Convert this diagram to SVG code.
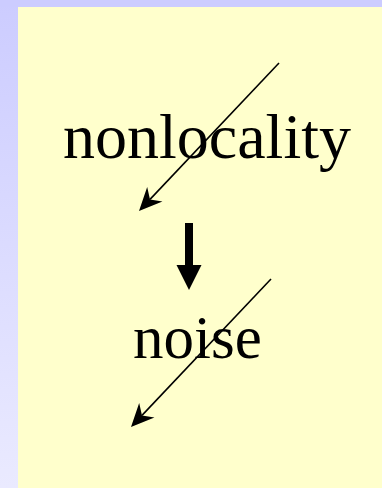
<svg xmlns="http://www.w3.org/2000/svg" width="382" height="488" viewBox="0 0 382 488">
  <style>
    .label { font-family: "Liberation Serif", "Times New Roman", serif; fill: #000000; }
    .thin { stroke: #000000; stroke-width: 1.6; fill: none; }
  </style>
  <defs>
    <linearGradient id="side" x1="0" y1="0" x2="0" y2="1">
      <stop offset="0" stop-color="#ccccff"/>
      <stop offset="1" stop-color="#eaeaff"/>
    </linearGradient>
    <marker id="head" markerUnits="userSpaceOnUse" viewBox="-8 -12 26 24" refX="0" refY="0" markerWidth="26" markerHeight="24" orient="auto">
      <path d="M16,0 L-7,-10.5 L0,0 L-7,10.5 Z" fill="#000000"/>
    </marker>
  </defs>
  <rect x="0" y="0" width="382" height="488" fill="url(#side)"/>
  <rect x="0" y="0" width="382" height="7" fill="#ccccff"/>
  <rect x="18" y="7" width="364" height="481" fill="#ffffcc"/>

  <g id="node-nonlocality">
    <text class="label" x="63" y="158" font-size="64">nonlocality</text>
  </g>
  <g id="node-noise">
    <text class="label" x="133" y="358" font-size="61">noise</text>
  </g>

  <g id="connectors">
    <path class="thin" d="M279,63 L150,199.4" marker-end="url(#head)"/>
    <path class="thin" d="M271,279 L142,415.4" marker-end="url(#head)"/>
    <polygon points="185,223 193,223 193,265 201.5,265 189,290 176.5,265 185,265" fill="#000000"/>
  </g>
</svg>
